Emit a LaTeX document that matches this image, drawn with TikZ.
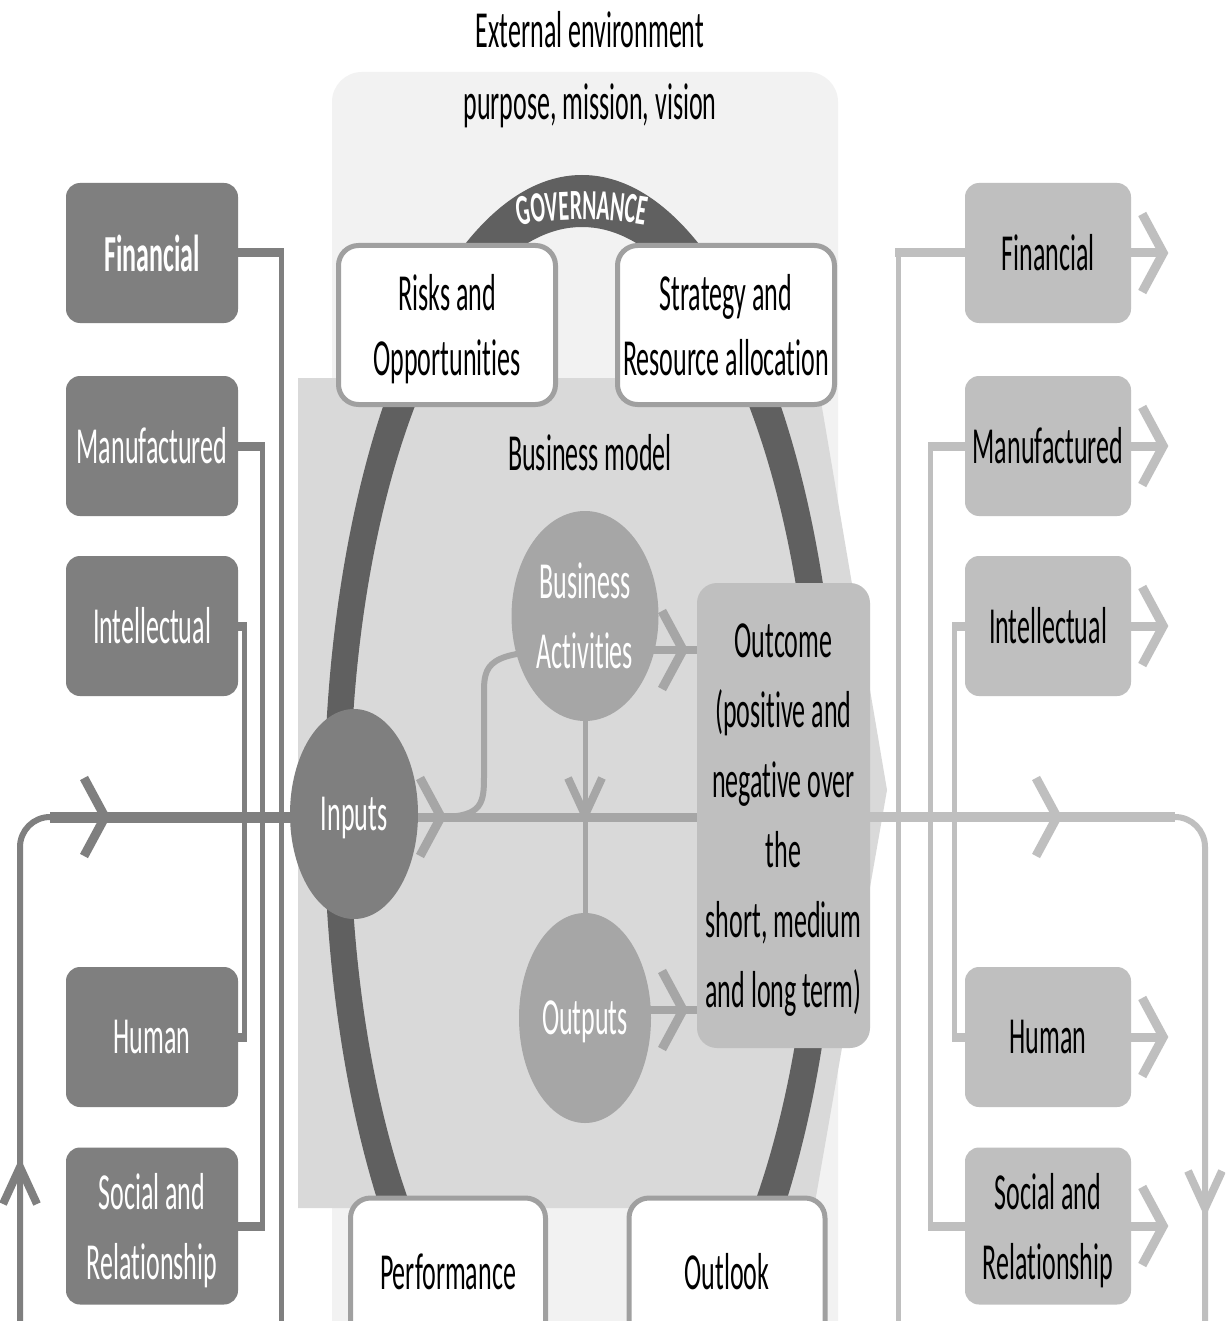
\documentclass[tikz,border=0pt]{standalone}
\usepackage{fontspec}
\setmainfont{Carlito}[FakeStretch=0.5, Ligatures=NoCommon]
\usetikzlibrary{shapes.geometric,decorations.text}

\pgfdeclarelayer{bg}
\pgfdeclarelayer{wires}
\pgfsetlayers{bg,wires,main}

\definecolor{ringgray}{HTML}{606060}
\definecolor{capdark}{HTML}{7F7F7F}
\definecolor{midgray}{HTML}{A6A6A6}
\definecolor{caplight}{HTML}{BFBFBF}
\definecolor{modelgray}{HTML}{D9D9D9}
\definecolor{envgray}{HTML}{F2F2F2}
\definecolor{rimgray}{HTML}{A0A0A0}

\newcommand\labelfont{\fontsize{52}{68}\selectfont}
\newcommand\govfont{\fontsize{43}{43}\selectfont\bfseries}

\tikzset{
  chevR/.pic={\path[pic actions, line width=9pt, line cap=butt, line join=miter] (-21,-39) -- (0,0) -- (-21,39);},
  chevU/.pic={\path[pic actions, line width=8pt, line cap=butt, line join=miter] (-17,-37) -- (0,0) -- (17,-37);},
  chevD/.pic={\path[pic actions, line width=8pt, line cap=butt, line join=miter] (-17,37) -- (0,0) -- (17,37);},
}

\begin{document}
\begin{tikzpicture}[x=1pt,y=1pt,
  every node/.style={inner sep=0pt, font=\labelfont, align=center},
  capleft/.style={rectangle, rounded corners=14pt, fill=capdark, text=white,
    minimum width=172pt, minimum height=140pt},
  capright/.style={capleft, fill=caplight, text=black, minimum width=166pt},
  whitebox/.style={rectangle, rounded corners=20pt, fill=white, draw=rimgray, line width=5pt},
  hub/.style={ellipse, fill=midgray, text=white, minimum height=210pt},
  lv/.style={draw=capdark, line width=5pt},
  lh/.style={draw=capdark, line width=9pt},
  rv/.style={draw=caplight, line width=5pt},
  rh/.style={draw=caplight, line width=9pt},
  mid/.style={draw=midgray, line width=9pt},
]
\useasboundingbox (0,0) rectangle (1225,-1321);
\clip (0,0) rectangle (1225,-1321);

% ---------- titles ----------
\node (extenv) at (590,-30) {External environment};
\node (pmv) at (590,-106) {purpose, mission, vision};
\node (bm) at (590,-453) {Business model};

% ---------- input capitals ----------
\node[capleft, font=\labelfont\bfseries] (lfin) at (152,-253) {Financial};
\node[capleft] (lman) at (152,-446) {Manufactured};
\node[capleft] (lint) at (152,-626) {Intellectual};
\node[capleft] (lhum) at (152,-1037) {Human};
\node[capleft, minimum height=157pt, text depth=0pt, font=\fontsize{52}{70}\selectfont] (lsoc) at (152,-1226) {Social and\\Relationship};

% ---------- output capitals ----------
\node[capright] (rfin) at (1048,-253) {Financial};
\node[capright] (rman) at (1048,-446) {Manufactured};
\node[capright] (rint) at (1048,-626) {Intellectual};
\node[capright] (rhum) at (1048,-1037) {Human};
\node[capright, minimum height=157pt, text depth=0pt, font=\fontsize{52}{70}\selectfont] (rsoc) at (1048,-1226) {Social and\\Relationship};

% ---------- governance boxes ----------
\node[whitebox, minimum width=217pt, minimum height=159pt, text depth=0pt, font=\fontsize{52}{65}\selectfont] (risks) at (447,-325) {Risks and\\Opportunities};
\node[whitebox, minimum width=217pt, minimum height=159pt, text depth=0pt, font=\fontsize{52}{65}\selectfont] (strat) at (726,-325) {Strategy and\\Resource allocation};
\node[whitebox, minimum width=195pt, minimum height=148pt] (perf) at (448,-1272) {Performance};
\node[whitebox, minimum width=196pt, minimum height=148pt] (outlook) at (727,-1272) {Outlook};

% ---------- business model ----------
\node[hub, fill=capdark, minimum width=128pt, text depth=0pt] (inputs) at (354,-814) {Inputs};
\node[hub, minimum width=147pt, font=\fontsize{52}{70}\selectfont] (acts) at (585,-616) {Business\\Activities};
\node[hub, minimum width=132pt, text depth=0pt] (outs) at (585,-1018) {Outputs};
\node[rectangle, rounded corners=20pt, fill=caplight, minimum width=173pt, minimum height=465pt,
  text depth=0pt, font=\fontsize{52}{70}\selectfont] (outcome) at (783.5,-815.5)
  {Outcome\\(positive and\\negative over\\the\\short, medium\\and long term)};

% governance label along the top of the ring
\path[decorate, decoration={text along path, text={|\govfont|GOVERNANCE},
  text align=center, text color=white}]
  (468,-240) .. controls (530,-213) and (634,-213) .. (696,-240);

% ---------- panels and ring ----------
\begin{pgfonlayer}{bg}
  \clip (0,0) rectangle (1225,-1321);
  \fill[white] (0,0) rectangle (1225,-1321);
  \fill[envgray] (332,-1321) -- (332,-102) arc[start angle=180, end angle=90, radius=30]
    -- (808,-72) arc[start angle=90, end angle=0, radius=30] -- (838,-1321) -- cycle;
  \fill[modelgray] (298,-378) -- (817,-378) -- (887,-790) -- (814,-1208) -- (298,-1208) -- cycle;
  \fill[ringgray, even odd rule]
    (582,-812) ellipse [x radius=258, y radius=637]
    (582,-812) ellipse [x radius=232, y radius=585];
\end{pgfonlayer}

% ---------- connectors ----------
\begin{pgfonlayer}{wires}
  \clip (0,0) rectangle (1225,-1321);
  \coordinate (flow) at (0,-817);
  \coordinate (actsrow) at (0,-650);
  \coordinate (outsrow) at (0,-1010);

  % input capitals feed downward
  \coordinate (lfinEnd) at (281,-1321);
  \draw[lv] (lfin.east) -| (lfinEnd);
  \draw[lh] (lfin.east) -- ++(45.5,0);
  \draw[lv] (lman.east) -- ++(24,0) |- (lsoc.east);
  \draw[lh] (lman.east) -- ++(26.5,0);
  \draw[lh] (lsoc.east) -- ++(26.5,0);
  \draw[lv] (lint.east) -- ++(6,0) |- (lhum.east);
  \draw[lh] (lint.east) -- ++(8.5,0);
  \draw[lh] (lhum.east) -- ++(8.5,0);

  % output capitals
  \coordinate (rfinEnd) at (898,-1321);
  \draw[rv] (rfin.west) -| (rfinEnd);
  \draw[rh] (rfin.west) -- ++(-69.5,0);
  \draw[rv] (rman.west) -- ++(-34,0) |- (rsoc.west);
  \draw[rh] (rman.west) -- ++(-36.5,0);
  \draw[rh] (rsoc.west) -- ++(-36.5,0);
  \draw[rv] (rint.west) -- ++(-10,0) |- (rhum.west);
  \draw[rh] (rint.west) -- ++(-12.5,0);
  \draw[rh] (rhum.west) -- ++(-12.5,0);
  \foreach \c in {rfin,rman,rint,rhum,rsoc} {
    \draw[rh] (\c.east) -- ++(30,0);
    \pic[draw=caplight] at ([xshift=32pt]\c.east) {chevR};
  }

  % loop into the inputs
  \coordinate (loopIn) at (20,-1321);
  \coordinate (loopBend) at (50,-817);
  \draw[draw=capdark, line width=6pt, rounded corners=30pt] (loopIn) |- (inputs.center |- flow);
  \draw[draw=capdark, line width=11pt] (loopBend) -- (inputs.center |- flow);
  \pic[draw=capdark] at (105,-817) {chevR};
  \pic[draw=capdark] at (20,-1167) {chevU};

  % flow through the business model
  \draw[mid] (inputs.center |- flow) -- (outcome.center |- flow);
  \pic[draw=midgray] at (441,-817) {chevR};
  \coordinate (split) at (440,-817);
  \draw[draw=midgray, line width=6pt] (split) .. controls (484,-817) and (484,-802) .. (484,-774)
    -- (484,-690) .. controls (484,-660) and (494,-650) .. (acts.center |- actsrow);
  \draw[draw=midgray, line width=8pt] (acts.center |- actsrow) -- (outcome.center |- actsrow);
  \pic[draw=midgray] at (683,-650) {chevR};
  \draw[draw=midgray, line width=8pt] (outs.center |- outsrow) -- (outcome.center |- outsrow);
  \pic[draw=midgray] at (683,-1010) {chevR};
  \draw[draw=midgray, line width=5pt] (acts) -- (outs);
  \pic[draw=midgray] at (585,-815) {chevD};

  % loop out of the outcome
  \coordinate (loopOut) at (1205,-1321);
  \coordinate (bendR) at (1175,-817);
  \draw[draw=caplight, line width=6pt, rounded corners=30pt] (outcome.center |- flow) -| (loopOut);
  \draw[draw=caplight, line width=10pt] (outcome.center |- flow) -- (bendR);
  \pic[draw=caplight] at (1057,-817) {chevR};
  \pic[draw=caplight] at (1205,-1208) {chevD};
\end{pgfonlayer}
\end{tikzpicture}
\end{document}
